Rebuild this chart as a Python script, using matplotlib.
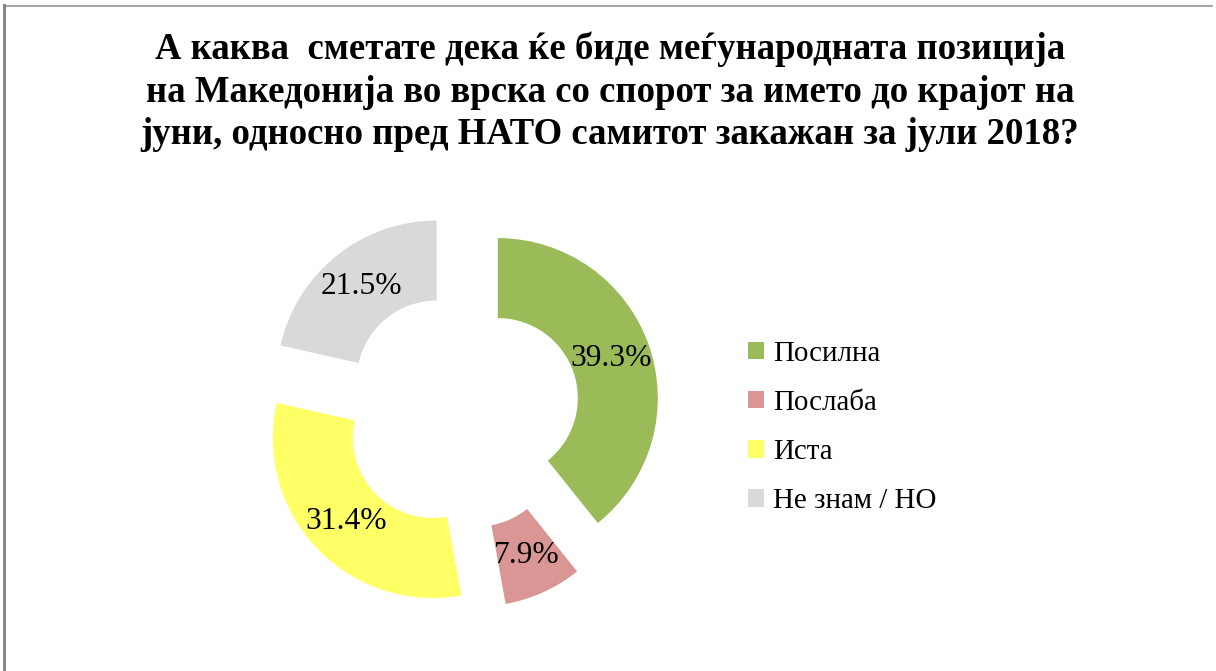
import matplotlib
matplotlib.use("Agg")
import matplotlib.pyplot as plt
from matplotlib.lines import Line2D

categories = ["Посилна", "Послаба", "Иста", "Не знам / НО"]
values = [39.3, 7.9, 31.4, 21.5]
colors = ["#9BBB59", "#D99694", "#FFFF66", "#D9D9D9"]
title_lines = ["А каква  сметате дека ќе биде меѓународната позиција",
               "на Македонија во врска со спорот за името до крајот на",
               "јуни, односно пред НАТО самитот закажан за јули 2018?"]

W, H = 1216, 671
DPI = 100
PX = 72 / DPI  # points per pixel

fig = plt.figure(figsize=(W / DPI, H / DPI), dpi=DPI)
ax = fig.add_axes([0, 0, 1, 1])

total = sum(values)
R = 160
wedges, texts, autotexts = ax.pie(
    values,
    colors=colors,
    startangle=90,
    counterclock=False,
    center=(461, H - 411),
    radius=R,
    explode=[39] * len(values),
    wedgeprops=dict(width=80, linewidth=0),
    autopct=lambda p: f"{p * total / 100:.1f}%",
    pctdistance=0.75,
    textprops=dict(family="Liberation Serif", fontsize=31.5 * PX, color="black"),
    frame=False,
)
ax.set_xlim(0, W)
ax.set_ylim(0, H)
ax.set_aspect("auto")
ax.axis("off")

for line, base in zip(title_lines, [59, 101.5, 144]):
    fig.text(610 / W, 1 - base / H, line, ha="center", va="baseline",
             family="Liberation Serif", fontweight="bold", fontsize=36.7 * PX)

leg = ax.legend(wedges, categories, loc="center left",
                bbox_to_anchor=(748 / W, 1 - 427.5 / H),
                bbox_transform=fig.transFigure,
                frameon=False,
                prop=dict(family="Liberation Serif", size=29 * PX),
                handlelength=0.55, handleheight=0.55,
                handletextpad=0.31, labelspacing=0.8,
                borderpad=0, borderaxespad=0)

# partial frame (left and top edges)
fig.add_artist(Line2D([3.5 / W, 3.5 / W], [0, 1 - 5 / H], transform=fig.transFigure,
                      color="#888888", linewidth=3 * PX))
fig.add_artist(Line2D([3.5 / W, 1212 / W], [1 - 5.5 / H, 1 - 5.5 / H],
                      transform=fig.transFigure, color="#888888", linewidth=1.5 * PX))

fig.savefig("out.png", dpi=DPI)
